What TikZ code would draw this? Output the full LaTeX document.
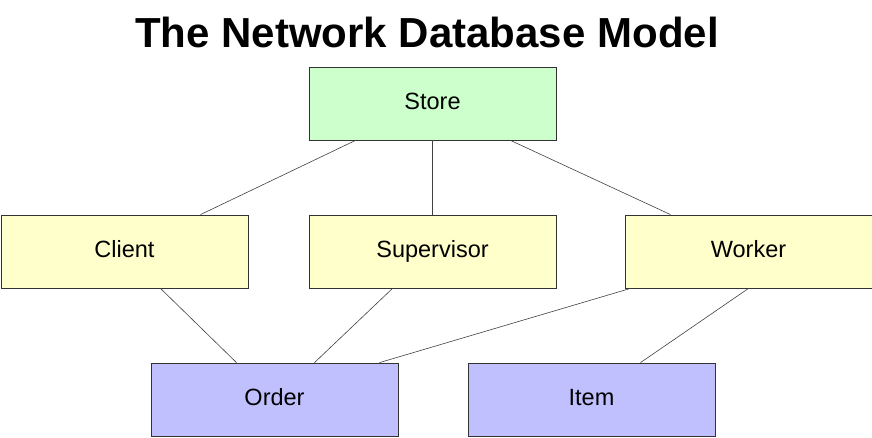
\documentclass[tikz,border=0pt]{standalone}
\usepackage{fontspec}
\setmainfont{Liberation Sans}
\usetikzlibrary{calc}
\definecolor{gr}{HTML}{CCFFCC}
\definecolor{ye}{HTML}{FFFFCC}
\definecolor{pu}{HTML}{C0C0FF}
\begin{document}
\begin{tikzpicture}[x=1pt,y=-1pt,
 box/.style={draw=black!80,line width=0.8pt,minimum width=247pt,minimum height=73pt,inner sep=0pt,text height=16pt,text depth=4pt,font=\fontsize{23.5}{26}\selectfont},
 ln/.style={draw=black!75,line width=0.6pt}]
\useasboundingbox (0,0) rectangle (872,438);
\node[font=\fontsize{42}{46}\selectfont\bfseries] (title) at (427,32) {The Network Database Model};
\node[box,fill=gr] (store) at (432.5,103.5) {Store};
\node[box,fill=ye] (client) at (124.5,251.5) {Client};
\node[box,fill=ye] (sup) at (432.5,251.5) {Supervisor};
\node[box,fill=ye] (worker) at (748.5,251.5) {Worker};
\node[box,fill=pu] (order) at (274.5,399.5) {Order};
\node[box,fill=pu] (item) at (591.5,399.5) {Item};
\draw[ln] ($(store.south)+(-77,0)$) -- ($(client.north)+(76,0)$);
\draw[ln] (store.south) -- (sup.north);
\draw[ln] ($(store.south)+(78,0)$) -- ($(worker.north)+(-78,0)$);
\draw[ln] ($(client.south)+(36,0)$) -- ($(order.north)+(-38,0)$);
\draw[ln] ($(sup.south)+(-40,0)$) -- ($(order.north)+(40,0)$);
\draw[ln] ($(worker.south)+(-118,0)$) -- ($(order.north)+(105,0)$);
\draw[ln] (worker.south) -- ($(item.north)+(49,0)$);
\end{tikzpicture}
\end{document}
